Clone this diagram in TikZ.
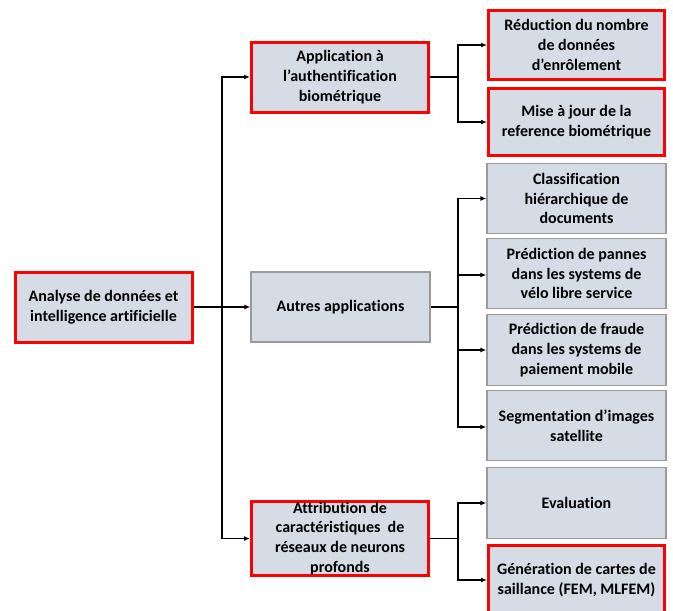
\documentclass[tikz,border=0pt]{standalone}
\usepackage{fontspec}
\setmainfont{Carlito}[Ligatures={NoCommon}]
\usetikzlibrary{arrows.meta}
\definecolor{boxfill}{HTML}{D6DCE5}
\definecolor{boxgray}{HTML}{9A9A9A}
\definecolor{boxred}{HTML}{FF0000}
\begin{document}
\begin{tikzpicture}[x=1pt,y=-1pt,
  base/.style={fill=boxfill, minimum width=179pt, align=center,
    font=\fontsize{16}{19.8}\selectfont\bfseries, inner sep=0pt},
  redbox/.style={base, draw=boxred, line width=3pt},
  graybox/.style={base, draw=boxgray, line width=1.3pt},
  conn/.style={draw=black, line width=1.2pt},
  arr/.style={conn, -{Latex[length=6pt,width=5pt]}}
]
\useasboundingbox (0,0) rectangle (673,611);
% level 0
\node[redbox, minimum width=177pt, minimum height=70pt] (root) at (103.5,307) {Analyse de données et\\intelligence artificielle};
% level 1
\node[redbox, minimum width=177pt, minimum height=70pt] (auth) at (340,77) {Application à\\l’authentification\\biométrique};
\node[graybox, minimum height=70pt] (autres) at (340.5,307) {Autres applications};
\node[redbox, minimum width=177pt, minimum height=70pt] (attr) at (340,538.5) {Attribution de\\caractéristiques\ \ de\\réseaux de neurons\\profonds};
% level 2
\node[redbox, minimum width=176pt, minimum height=69pt, text depth=-6pt] (r1) at (576.5,45) {Réduction du nombre\\de données\\d’enrôlement};
\node[redbox, minimum width=176pt, minimum height=67pt] (r2) at (576.5,122) {Mise à jour de la\\reference biométrique};
\node[graybox, minimum height=70pt] (c1) at (576.5,198.5) {Classification\\hiérarchique de\\documents};
\node[graybox, minimum height=70pt] (c2) at (576.5,273.5) {Prédiction de pannes\\dans les systems de\\vélo libre service};
\node[graybox, minimum height=71pt] (c3) at (576.5,350) {Prédiction de fraude\\dans les systems de\\paiement mobile};
\node[graybox, minimum height=70pt] (c4) at (576.5,425.5) {Segmentation d’images\\satellite};
\node[graybox, minimum height=71pt] (ev) at (576.5,503) {Evaluation};
\node[redbox, minimum width=176pt, minimum height=70pt] (gen) at (576.5,580) {Génération de cartes de\\saillance (FEM, MLFEM)};
% junctions
\coordinate (j0) at (222,307);
\coordinate (j1) at (458,77);
\coordinate (j2) at (458,307);
\coordinate (j3) at (458,538.5);
% connectors
\draw[arr] (root.east) -- (autres.west);
\draw[arr] (j0) |- (auth.west);
\draw[arr] (j0) |- (attr.west);
\draw[conn] (auth.east) -- (j1);
\draw[arr] (j1) |- (r1.west);
\draw[arr] (j1) |- (r2.west);
\draw[conn] (autres.east) -- (j2);
\draw[arr] (j2) |- (c1.west);
\draw[arr] (j2) |- ([yshift=-1.5pt]c2.west);
\draw[arr] (j2) |- (c3.west);
\draw[arr] (j2) |- ([yshift=-1.5pt]c4.west);
\draw[conn] (attr.east) -- (j3);
\draw[arr] (j3) |- (ev.west);
\draw[arr] (j3) |- (gen.west);
\end{tikzpicture}
\end{document}
